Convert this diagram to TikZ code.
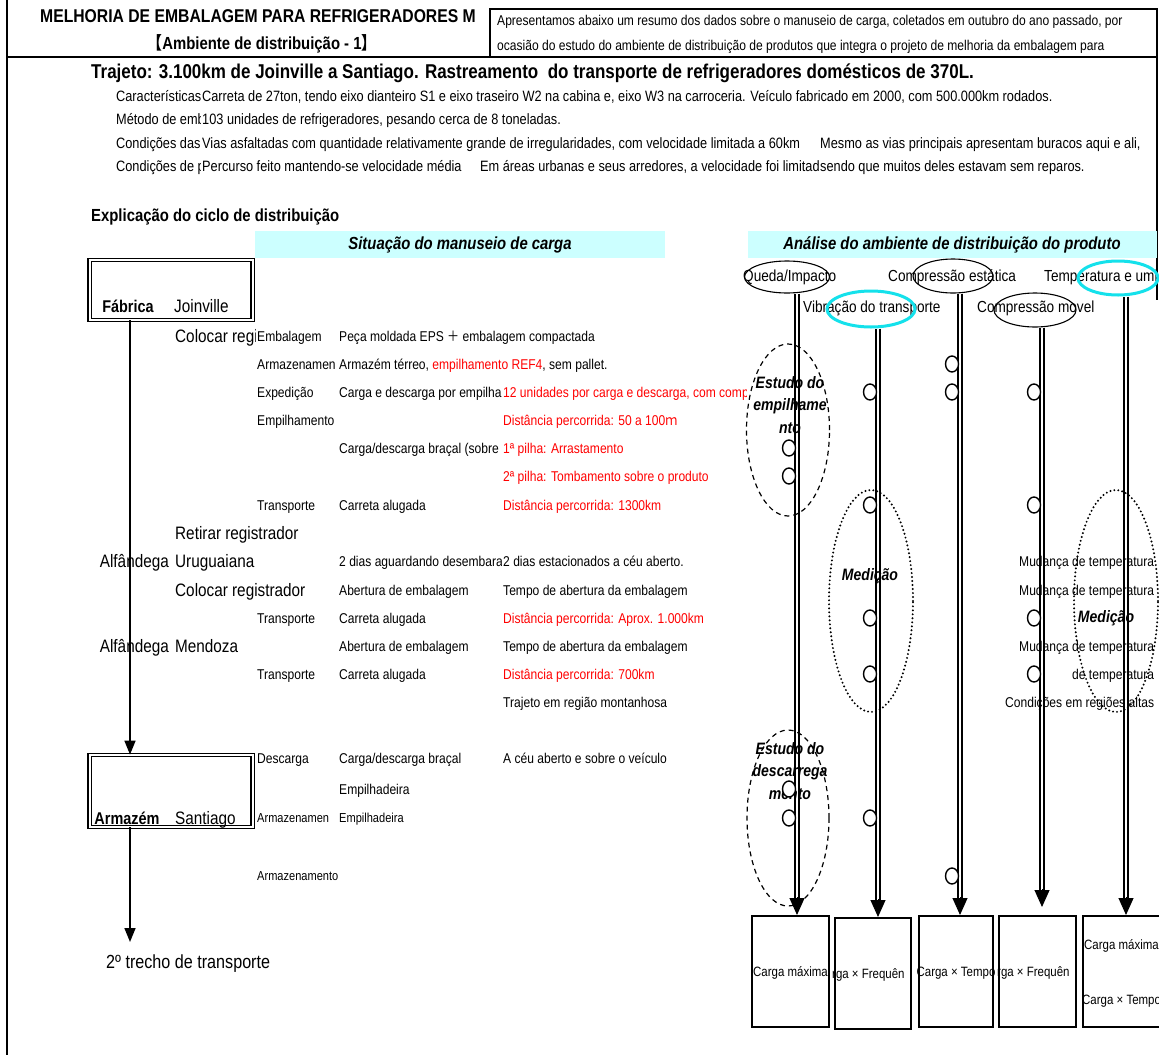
\documentclass[tikz,border=0pt]{standalone}
\usepackage{fontspec}
\setmainfont{Liberation Sans}[FakeStretch=0.85]
\newfontfamily\cjk{Noto Sans CJK SC}[FakeStretch=0.85]
\usetikzlibrary{arrows.meta,calc,shapes.geometric}
\definecolor{bandcyan}{RGB}{204,255,255}
\definecolor{ringcyan}{RGB}{20,225,235}
\definecolor{alert}{RGB}{255,0,0}
\newcommand\fsz[1]{\fontsize{#1}{#1}\selectfont}
% text node clipped at a cell border: style, name, x, y, right border, text
\newcommand\cutnode[6]{\begin{scope}\clip (#3-3,#4-16) rectangle (#5,#4+16);\node[#1] (#2) at (#3,#4) {#6};\end{scope}}

\begin{document}
\begin{tikzpicture}[x=1pt,y=-1pt,
  txt/.style={anchor=west,inner sep=0pt,text depth=0pt},
  ts/.style={txt,font=\fsz{14.2},text height=10.2pt},
  tr/.style={txt,font=\fsz{15},text height=10.8pt},
  tx/.style={txt,font=\fsz{13},text height=9.4pt},
  tm/.style={txt,font=\fsz{18},text height=13pt},
  th/.style={txt,font=\fsz{16},text height=11.5pt},
  tb/.style={txt,font=\bfseries\fsz{17},text height=12.2pt},
  hot/.style={text=alert},
  band/.style={fill=bandcyan,draw=none,inner sep=0pt},
  bandtitle/.style={inner sep=0pt,font=\bfseries\itshape\fsz{17.5}},
  frame/.style={line width=2.6pt},
  station/.style={draw,double,double distance=2pt,line width=1.2pt,inner sep=0pt,minimum width=163pt},
  flow/.style={line width=1.6pt,-{Triangle[length=14pt,width=11pt]}},
  oval/.style={ellipse,draw,line width=1.1pt,inner sep=0pt},
  ring/.style={ellipse,draw=ringcyan,line width=3pt,inner sep=0pt},
  hit/.style={ellipse,draw,line width=1.4pt,fill=white,minimum width=13pt,minimum height=16pt,inner sep=0pt},
  rail/.style={draw,double,double distance=2.5pt,line width=1.3pt},
  railtip/.style={line width=1pt,-{Triangle[length=17pt,width=15pt]}},
  study/.style={ellipse,draw,dash pattern=on 5pt off 4pt,line width=1.2pt,inner sep=0pt},
  measure/.style={ellipse,draw,line width=2.2pt,dash pattern=on 0pt off 4pt,line cap=round,inner sep=0pt},
  inlabel/.style={inner sep=0pt,font=\bfseries\itshape\fsz{16.5},align=center},
  result/.style={draw,line width=2pt,inner sep=0pt,minimum height=111pt},
  caption/.style={inner sep=0pt,font=\fsz{13.5},text height=9.7pt,text depth=0pt},
]
\useasboundingbox (0,0) rectangle (1159,1055);
\fill[white] (0,0) rectangle (1159,1055);

% ---------- frame and header ----------
\draw[frame] (7,0) -- (7,1055);
\draw[frame] (7,57) -- (1157,57);
\draw[frame] (490,57) -- (490,9) -- (1157,9) -- (1157,300);

\node[inner sep=0pt,font=\bfseries\fsz{18.5}] (title1) at (258,16) {MELHORIA DE EMBALAGEM PARA REFRIGERADORES M};
\node[inner sep=0pt,font=\bfseries\fsz{17.5}] (title2) at (262,44) {{\cjk 【}Ambiente de distribuição - 1{\cjk 】}};
\node[ts] (intro1) at (497,20) {Apresentamos abaixo um resumo dos dados sobre o manuseio de carga, coletados em outubro do ano passado, por};
\node[ts] (intro2) at (497,45) {ocasião do estudo do ambiente de distribuição de produtos que integra o projeto de melhoria da embalagem para};

% ---------- route summary ----------
\node[txt,font=\bfseries\fsz{20},text height=14.4pt] (route) at (91,71) {Trajeto: 3.100km de Joinville a Santiago. Rastreamento\ \ do transporte de refrigeradores domésticos de 370L.};
\cutnode{tr}{carL}{116}{96}{200}{Características}
\node[tr] (carT) at (202,96) {Carreta de 27ton, tendo eixo dianteiro S1 e eixo traseiro W2 na cabina e, eixo W3 na carroceria. Veículo fabricado em 2000, com 500.000km rodados.};
\cutnode{tr}{metL}{116}{119}{200}{Método de emb}
\node[tr] (metT) at (202,119) {103 unidades de refrigeradores, pesando cerca de 8 toneladas.};
\cutnode{tr}{viaL}{116}{143}{200}{Condições das}
\node[tr] (viaT) at (202,143) {Vias asfaltadas com quantidade relativamente grande de irregularidades, com velocidade limitada a 60km};
\node[tr] (viaU) at (820,143) {Mesmo as vias principais apresentam buracos aqui e ali,};
\cutnode{tr}{perL}{116}{166}{200}{Condições de p}
\cutnode{tr}{perT}{202}{166}{478}{Percurso feito mantendo-se velocidade média}
\node[tr] (perU) at (480,166) {Em áreas urbanas e seus arredores, a velocidade foi limitad};
\node[tr] (perV) at (820,166) {sendo que muitos deles estavam sem reparos.};

% ---------- section headings ----------
\node[txt,font=\bfseries\fsz{17.5},text height=12.6pt] (cycle) at (91,215) {Explicação do ciclo de distribuição};
\node[band,minimum width=410pt,minimum height=27pt] (bandL) at (460,244.5) {};
\node[bandtitle] (bandLt) at (460,245) {Situação do manuseio de carga};
\node[band,minimum width=409pt,minimum height=27pt] (bandR) at (952,244.5) {};
\node[bandtitle] (bandRt) at (952,245) {Análise do ambiente de distribuição do produto};

% ---------- stations and flow ----------
\coordinate (axis) at (130,0);
\node[station,minimum height=59.6pt] (fab) at (171,290) {};
\node[tb,anchor=center] (fabN) at (128,306) {Fábrica};
\node[tm] (fabC) at (174,306) {Joinville};
\node[station,minimum height=71.6pt] (arm) at (171,791) {};
\node[tb,anchor=center] (armN) at (127,818) {Armazém};
\node[tm] (armC) at (175,818) {Santiago};
\coordinate (next) at (130,942);
\draw[flow] (fab.south -| axis) -- (arm.north -| axis);
\draw[flow] (arm.south -| axis) -- (next);
\node[txt,font=\fsz{19},text height=13.7pt] (leg2) at (106,962) {2º trecho de transporte};

% ---------- handling steps ----------
\cutnode{tm}{s1a}{175}{336}{255}{Colocar regi}
\node[ts] (s1b) at (257,336) {Embalagem};
\node[ts] (s1c) at (339,336) {Peça moldada EPS {\cjk ＋} embalagem compactada};
\cutnode{ts}{s2b}{257}{364}{337}{Armazenamen}
\node[ts] (s2c) at (339,364) {Armazém térreo, \textcolor{alert}{empilhamento REF4}, sem pallet.};
\node[ts] (s3b) at (257,392) {Expedição};
\cutnode{ts}{s3c}{339}{392}{501}{Carga e descarga por empilhad}
\cutnode{ts,hot}{s3d}{503}{392}{746}{12 unidades por carga e descarga, com compr}
\node[ts] (s4b) at (257,420) {Empilhamento};
\node[ts,hot] (s4d) at (503,420) {Distância percorrida: 50 a 100{\cjk ｍ}};
\cutnode{ts}{s5c}{339}{448}{501}{Carga/descarga braçal (sobre o}
\node[ts,hot] (s5d) at (503,448) {1ª pilha: Arrastamento};
\node[ts,hot] (s6d) at (503,476) {2ª pilha: Tombamento sobre o produto};
\node[ts] (s7b) at (257,505) {Transporte};
\node[ts] (s7c) at (339,505) {Carreta alugada};
\node[ts,hot] (s7d) at (503,505) {Distância percorrida: 1300km};
\node[tm] (s8a) at (175,533) {Retirar registrador};
\node[tm,anchor=east] (s9n) at (169,561) {Alfândega};
\node[tm] (s9a) at (175,561) {Uruguaiana};
\cutnode{ts}{s9c}{339}{561}{501}{2 dias aguardando desembaraço}
\node[ts] (s9d) at (503,561) {2 dias estacionados a céu aberto.};
\node[tm] (s10a) at (175,590) {Colocar registrador};
\node[ts] (s10c) at (339,590) {Abertura de embalagem};
\node[ts] (s10d) at (503,590) {Tempo de abertura da embalagem};
\node[ts] (s11b) at (257,618) {Transporte};
\node[ts] (s11c) at (339,618) {Carreta alugada};
\node[ts,hot] (s11d) at (503,618) {Distância percorrida: Aprox. 1.000km};
\node[tm,anchor=east] (s12n) at (169,646) {Alfândega};
\node[tm] (s12a) at (175,646) {Mendoza};
\node[ts] (s12c) at (339,646) {Abertura de embalagem};
\node[ts] (s12d) at (503,646) {Tempo de abertura da embalagem};
\node[ts] (s13b) at (257,674) {Transporte};
\node[ts] (s13c) at (339,674) {Carreta alugada};
\node[ts,hot] (s13d) at (503,674) {Distância percorrida: 700km};
\node[ts] (s14d) at (503,702) {Trajeto em região montanhosa};
\node[ts] (s15b) at (257,758) {Descarga};
\node[ts] (s15c) at (339,758) {Carga/descarga braçal};
\node[ts] (s15d) at (503,758) {A céu aberto e sobre o veículo};
\node[ts] (s16c) at (339,789) {Empilhadeira};
\cutnode{tx}{s17b}{257}{818}{337}{Armazenamen}
\node[tx] (s17c) at (339,818) {Empilhadeira};
\node[tx] (s18b) at (257,876) {Armazenamento};

% ---------- environment factors ----------
\node[th] (fDrop) at (743,276) {Queda/Impacto};
\node[th] (fStat) at (888,276) {Compressão estática};
\node[th] (fTemp) at (1044,276) {Temperatura e umi};
\node[th] (fVib) at (803,307) {Vibração do transporte};
\node[th] (fDyn) at (977,307) {Compressão movel};
\node[oval,minimum width=85pt,minimum height=32pt] (e1) at (787,277) {};
\node[oval,minimum width=80pt,minimum height=34pt] (e3) at (953,276) {};
\node[ring,minimum width=80pt,minimum height=34pt] (e5) at (1118,278) {};
\node[ring,minimum width=88pt,minimum height=36pt] (e2) at (871,309) {};
\node[oval,minimum width=82pt,minimum height=34pt] (e4) at (1035,310) {};

\coordinate (x1) at (797,0);
\coordinate (x2) at (878,0);
\coordinate (x3) at (960,0);
\coordinate (x4) at (1042,0);
\coordinate (x5) at (1126,0);

% ---------- evaluation boxes ----------
\node[result,minimum width=77pt] (b1) at (790.5,971.5) {};
\node[result,minimum width=76pt] (b2) at (873,973.5) {};
\node[result,minimum width=74pt] (b3) at (956,971.5) {};
\node[result,minimum width=77pt] (b4) at (1037.5,971.5) {};
\node[result,minimum width=77pt] (b5) at (1121.5,971.5) {};

% ---------- rails into the boxes ----------
\draw[rail] (e1.south -| x1) -- ($(b1.north -| x1)+(0,-15)$);
\draw[railtip] ($(b1.north -| x1)+(0,-18)$) -- (b1.north -| x1);
\draw[rail] (e2.south -| x2) -- ($(b2.north -| x2)+(0,-15)$);
\draw[railtip] ($(b2.north -| x2)+(0,-18)$) -- (b2.north -| x2);
\draw[rail] (e3.south -| x3) -- ($(b3.north -| x3)+(0,-15)$);
\draw[railtip] ($(b3.north -| x3)+(0,-18)$) -- (b3.north -| x3);
\coordinate (t4) at (1042,907);
\draw[rail] (e4.south -| x4) -- ($(t4)+(0,-15)$);
\draw[railtip] ($(t4)+(0,-18)$) -- (t4);
\draw[rail] (e5.south -| x5) -- ($(b5.north -| x5)+(0,-15)$);
\draw[railtip] ($(b5.north -| x5)+(0,-18)$) -- (b5.north -| x5);

% ---------- study regions ----------
\node[study,minimum width=83pt,minimum height=172pt] (st1) at (788,430) {};
\node[study,minimum width=82pt,minimum height=176pt] (st2) at (788,818) {};
\node[measure,minimum width=84pt,minimum height=222pt] (me1) at (871,601) {};
\node[measure,minimum width=84pt,minimum height=222pt] (me2) at (1116,601) {};
\node[inlabel] (st1t) at (790,405) {Estudo do\\[6pt]empilhame\\[6pt]nto};
\node[inlabel] (st2t) at (790,771) {Estudo do\\[6pt]descarrega\\[6pt]mento};
\node[inlabel] (me1t) at (870,576) {Medição};
\node[inlabel] (me2t) at (1106,618) {Medição};

% ---------- temperature notes ----------
\node[ts] (tp1) at (1019,561) {Mudança de temperatura};
\node[ts] (tp2) at (1019,590) {Mudança de temperatura};
\node[ts] (tp3) at (1019,646) {Mudança de temperatura};
\node[ts,anchor=east] (tp4) at (tp3.east |- 0,674) {de temperatura};
\node[ts] (tp5) at (1005,702) {Condições em regiões altas};

% ---------- occurrence marks ----------
\foreach \yy [count=\i] in {448,476,789,818} \node[hit] (h1\i) at (789,\yy) {};
\foreach \yy [count=\i] in {392,505,618,674,818} \node[hit] (h2\i) at (870,\yy) {};
\foreach \yy [count=\i] in {364,392,876} \node[hit] (h3\i) at (952,\yy) {};
\foreach \yy [count=\i] in {392,505,618,674} \node[hit] (h4\i) at (1034,\yy) {};

% ---------- box captions ----------
\node[caption] (c1) at (b1) {Carga máxima};
\node[caption,anchor=west] (c2) at ($(b2.west)+(-2,0)$) {rga × Frequên};
\node[caption] (c3) at (b3) {Carga × Tempo};
\node[caption,anchor=west] (c4) at ($(b4.west)+(-1,0)$) {rga × Frequên};
\node[caption,anchor=west] (c5) at ($(b5.west)+(2,-27)$) {Carga máxima};
\node[caption,anchor=west] (c6) at ($(b5.west)+(0,28)$) {Carga × Tempo};
\end{tikzpicture}
\end{document}
